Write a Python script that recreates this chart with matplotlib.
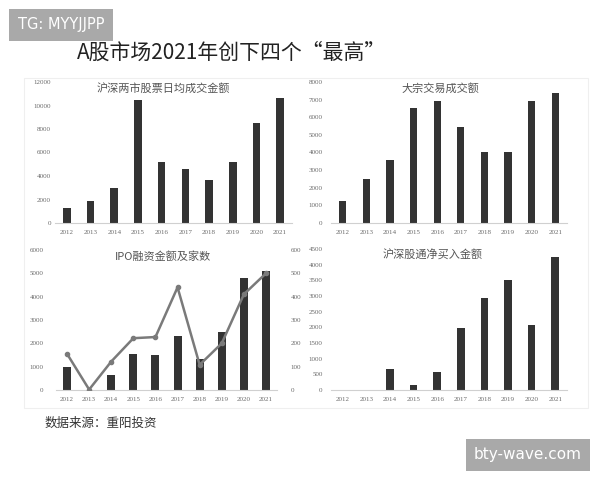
"""A股市场2021年创下四个“最高” - four small bar panels."""

import matplotlib
matplotlib.use("Agg")
import matplotlib.pyplot as plt
from matplotlib.patches import Rectangle

plt.rcParams["font.family"] = ["Noto Sans CJK SC", "DejaVu Sans"]

YEARS = ["2012", "2013", "2014", "2015", "2016", "2017", "2018", "2019", "2020", "2021"]
DAILY_TURNOVER = [1250, 1900, 3000, 10450, 5200, 4600, 3650, 5200, 8500, 10600]
BLOCK_TRADE = [1250, 2500, 3550, 6550, 6950, 5450, 4050, 4050, 6950, 7400]
IPO_AMOUNT = [1000, 0, 650, 1550, 1500, 2300, 1350, 2500, 4800, 5100]
IPO_COUNT = [155, 2, 122, 222, 227, 440, 108, 200, 410, 500]
CONNECT_NET = [5, 5, 660, 170, 590, 1970, 2930, 3500, 2070, 4240]

BAR = "#333333"
LINE = "#7a7a7a"
TICK = "#6a6a6a"
TITLE = "#555555"

W, H = 600, 480


def px(x, y):
    return x / W, 1 - y / H


def box(left, right, top, bottom):
    return [left / W, 1 - bottom / H, (right - left) / W, (bottom - top) / H]


def style(ax, ymax, step):
    ax.set_xlim(-0.5, len(YEARS) - 0.5)
    ax.set_ylim(0, ymax)
    ax.set_yticks(range(0, ymax + 1, step))
    ax.set_xticks(range(len(YEARS)))
    ax.set_xticklabels(YEARS)
    for s in ("top", "right", "left"):
        ax.spines[s].set_visible(False)
    ax.spines["bottom"].set_color("#d0d0d0")
    ax.spines["bottom"].set_linewidth(0.8)
    ax.tick_params(length=0, labelsize=5, labelcolor=TICK)
    ax.tick_params(axis="x", pad=5)
    for lab in ax.get_xticklabels() + ax.get_yticklabels():
        lab.set_family("Liberation Serif")
    ax.patch.set_alpha(0)


fig = plt.figure(figsize=(6, 4.8), dpi=100)

# faint frame round the panels
fig.patches.append(Rectangle(px(24, 408), 564 / W, 330 / H, transform=fig.transFigure,
                             fill=False, edgecolor="#efefef", linewidth=0.8))

ax1 = fig.add_axes(box(55, 292, 82, 223))
ax1.bar(range(len(YEARS)), DAILY_TURNOVER, 0.32, color=BAR)
style(ax1, 12000, 2000)
ax1.tick_params(axis="y", pad=3)

ax2 = fig.add_axes(box(331, 567, 82, 223))
ax2.bar(range(len(YEARS)), BLOCK_TRADE, 0.3, color=BAR)
style(ax2, 8000, 1000)
ax2.tick_params(axis="y", pad=6)

ax3 = fig.add_axes(box(56, 277, 250, 390))
ax3.bar(range(len(YEARS)), IPO_AMOUNT, 0.36, color=BAR)
style(ax3, 6000, 1000)
ax3.tick_params(axis="y", pad=9)
ax3b = ax3.twinx()
ax3b.plot(range(len(YEARS)), IPO_COUNT, color=LINE, linewidth=1.8,
          marker="o", markersize=3, zorder=3)
ax3b.set_ylim(0, 600)
ax3b.set_yticks(range(0, 601, 100))
for s in ("top", "right", "left", "bottom"):
    ax3b.spines[s].set_visible(False)
ax3b.tick_params(length=0, labelsize=5, labelcolor=TICK, pad=10)
for lab in ax3b.get_yticklabels():
    lab.set_family("Liberation Serif")

ax4 = fig.add_axes(box(331, 567, 249, 390))
ax4.bar(range(len(YEARS)), CONNECT_NET, 0.32, color=BAR)
style(ax4, 4500, 500)
ax4.tick_params(axis="y", pad=6)

# panel titles
fig.text(*px(163, 88), "沪深两市股票日均成交金额", ha="center", va="center",
         fontsize=8, color=TITLE)
fig.text(*px(440, 88), "大宗交易成交额", ha="center", va="center",
         fontsize=8, color=TITLE)
fig.text(*px(163, 256), "IPO融资金额及家数", ha="center", va="center",
         fontsize=8, color=TITLE)
fig.text(*px(433, 255), "沪深股通净买入金额", ha="center", va="center",
         fontsize=8, color=TITLE)

# headline and source
fig.text(*px(232, 53), "A股市场2021年创下四个“最高”", ha="center", va="center",
         fontsize=15, color="#222222")
fig.text(*px(45, 423), "数据来源：重阳投资", ha="left", va="center",
         fontsize=9, color="#333333")

# watermark tags
fig.text(*px(18, 25), "TG: MYYJJPP", ha="left", va="center", fontsize=10.5,
         color="white", family="DejaVu Sans",
         bbox=dict(boxstyle="square,pad=0.6", facecolor="#a9a9a9", edgecolor="none"))
fig.text(*px(582, 455), "bty-wave.com", ha="right", va="center", fontsize=11,
         color="white", family="DejaVu Sans",
         bbox=dict(boxstyle="square,pad=0.55", facecolor="#a9a9a9", edgecolor="none"))

fig.savefig("out.png", dpi=100)
